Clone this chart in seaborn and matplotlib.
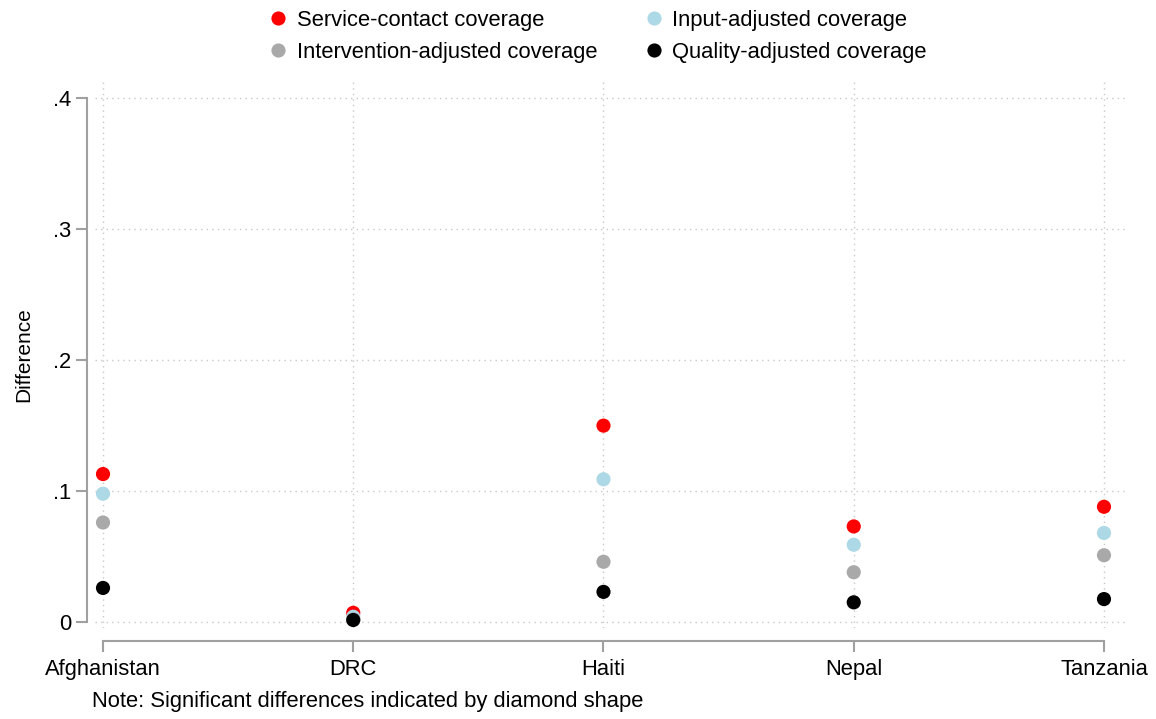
import matplotlib
matplotlib.use("Agg")
import matplotlib.pyplot as plt
import seaborn as sns
import pandas as pd
from matplotlib.ticker import FuncFormatter
from matplotlib.lines import Line2D

countries = ["Afghanistan", "DRC", "Haiti", "Nepal", "Tanzania"]
service_contact = [0.113, 0.007, 0.150, 0.073, 0.088]
input_adjusted = [0.098, 0.004, 0.109, 0.059, 0.068]
intervention_adjusted = [0.076, 0.002, 0.046, 0.038, 0.051]
quality_adjusted = [0.026, 0.0015, 0.023, 0.015, 0.0175]

series_names = ["Service-contact coverage", "Input-adjusted coverage",
                "Intervention-adjusted coverage", "Quality-adjusted coverage"]
series_vals = [service_contact, input_adjusted, intervention_adjusted, quality_adjusted]
colors = ["#ff0000", "#add8e6", "#a9a9a9", "#000000"]

rows = []
for name, vals in zip(series_names, series_vals):
    for c, v in zip(countries, vals):
        rows.append({"country": c, "series": name, "diff": v})
df = pd.DataFrame(rows)

sns.set_style("white")
plt.rcParams['font.family'] = ['Liberation Sans', 'DejaVu Sans']
plt.rcParams['text.color'] = 'black'
plt.rcParams['axes.labelcolor'] = 'black'

FS = 15.8

fig = plt.figure(figsize=(11.56, 7.19), dpi=100)
ax = fig.add_axes([95/1156, (719-628)/719, (1125-95)/1156, (628-82)/719])

sns.stripplot(data=df, x="country", y="diff", hue="series", hue_order=series_names,
              order=countries, palette=colors, jitter=False, dodge=False, size=10.2,
              linewidth=0, ax=ax, legend=False, zorder=3)

ax.set_xlim(-0.032, 4.084)
ax.set_ylim(-0.0046, 0.4125)
ax.set_yticks([0, 0.1, 0.2, 0.3, 0.4])
ax.yaxis.set_major_formatter(FuncFormatter(lambda v, p: "0" if abs(v) < 1e-9 else f"{v:.1f}".lstrip("0")))

grid_kw = dict(color="#c8c8c8", linestyle=(0, (1, 3)), linewidth=1.0, zorder=0)
for i in range(len(countries)):
    ax.axvline(i, **grid_kw)
for t in [0, 0.1, 0.2, 0.3, 0.4]:
    ax.axhline(t, **grid_kw)

for s in ["top", "right"]:
    ax.spines[s].set_visible(False)
ax.spines["left"].set_position(("outward", 5.8))
ax.spines["bottom"].set_position(("outward", 9.4))
ax.spines["left"].set_bounds(0, 0.4)
ax.spines["bottom"].set_bounds(0, 4)
for s in ["left", "bottom"]:
    ax.spines[s].set_color("#a0a0a0")
    ax.spines[s].set_linewidth(1.5)
ax.tick_params(axis="both", colors="#a0a0a0", labelcolor="black", labelsize=FS,
               length=8, width=1.5, left=True, bottom=True)
ax.tick_params(axis="x", pad=5)
ax.set_xlabel("")
ax.set_ylabel("Difference", fontsize=15, labelpad=14)

handles = [Line2D([], [], marker="o", linestyle="", markersize=10.2, color=c, markeredgewidth=0)
           for c in colors]
order = [0, 2, 1, 3]
fig.legend([handles[i] for i in order], [series_names[i] for i in order], ncol=2,
           loc="upper left", bbox_to_anchor=(256/1156, 1 - 1/719), frameon=False,
           fontsize=FS, handletextpad=0.25, columnspacing=1.98, labelspacing=0.49,
           handlelength=1.2, borderaxespad=0)

fig.text(92/1156, 1 - 701/719, "Note: Significant differences indicated by diamond shape",
         fontsize=FS, va="center", ha="left")

fig.savefig("out.png", dpi=100)
